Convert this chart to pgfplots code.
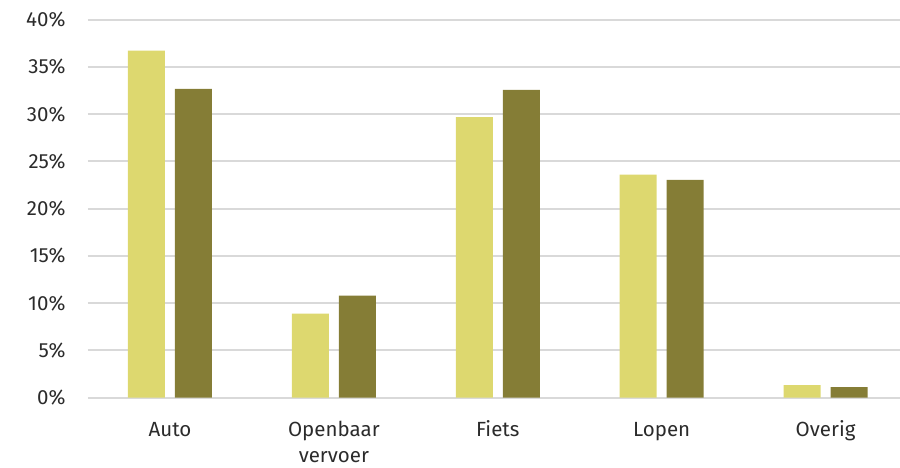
\documentclass[border=0pt]{standalone}
\usepackage{pgfplots}
\pgfplotsset{compat=1.18}
\usepackage{fontspec}
\setmainfont{Fira Sans}
\definecolor{licht}{HTML}{DDD86F}
\definecolor{donker}{HTML}{857D36}
\definecolor{raster}{HTML}{D9D9D9}
\definecolor{tekst}{HTML}{2B2B2B}
\begin{document}
\begin{tikzpicture}
\useasboundingbox (-88pt,-69.3pt) rectangle (812pt,397.7pt);
\begin{axis}[
    at={(0,0)}, anchor=south west,
    scale only axis,
    width=812pt, height=378.2pt,
    xmin=-0.5, xmax=4.454,
    ymin=0, ymax=40,
    ybar, bar width=37pt,
    axis line style={draw=none},
    tick style={draw=none},
    ymajorgrids,
    major grid style={color=raster, line width=2pt},
    ytick={0,5,...,40},
    yticklabels={0\%,5\%,10\%,15\%,20\%,25\%,30\%,35\%,40\%},
    xtick={0,1,2,3,4},
    xticklabels={\strut Auto,\strut Openbaar\\vervoer,\strut Fiets,\strut Lopen,\strut Overig},
    tick label style={font=\fontsize{20.5}{26}\selectfont, text=tekst},
    xticklabel style={align=center, anchor=north, yshift=-13pt},
    yticklabel style={xshift=-19pt},
]
\addplot[fill=licht, draw=none, bar shift=-23.5pt]
    coordinates {(0,36.7)(1,8.88)(2,29.68)(3,23.6)(4,1.34)};
\addplot[fill=donker, draw=none, bar shift=23.5pt]
    coordinates {(0,32.65)(1,10.79)(2,32.55)(3,23.05)(4,1.13)};
\end{axis}
\end{tikzpicture}
\end{document}
